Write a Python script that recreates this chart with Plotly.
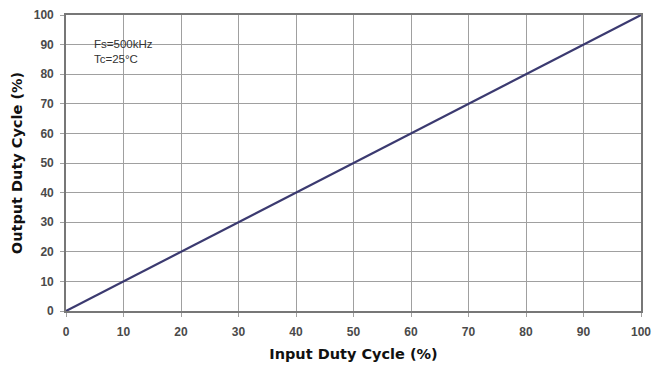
import plotly.graph_objects as go

# Input vs output duty cycle (%)
input_duty = [0, 10, 20, 30, 40, 50, 60, 70, 80, 90, 100]
output_duty = [0, 10, 20, 30, 40, 50, 60, 70, 80, 90, 100]
tick_vals = [0, 10, 20, 30, 40, 50, 60, 70, 80, 90, 100]

fig = go.Figure()
fig.add_trace(go.Scatter(
    x=input_duty, y=output_duty, mode="lines",
    line=dict(color="#3b3a70", width=2.2),
    showlegend=False,
))

axis_common = dict(
    range=[0, 100], tickvals=tick_vals, showgrid=True,
    gridcolor="#a0a0a0", gridwidth=1, zeroline=False,
    showline=True, linecolor="#777777", linewidth=1.6, mirror=True,
    ticks="outside", ticklen=4, tickcolor="#a0a0a0", tickwidth=1,
    automargin=False,
    tickfont=dict(family="Liberation Sans, Arial", size=12, color="#4a4a4a", weight="bold"),
)

title_font = dict(family="DejaVu Sans, Arial", size=14.5, color="#111111", weight="bold")

fig.update_layout(
    width=652, height=371,
    margin=dict(l=66, r=11, t=15, b=60),
    paper_bgcolor="white", plot_bgcolor="white",
    xaxis=dict(**axis_common, ticklabelstandoff=5,
               title=dict(text="Input Duty Cycle (%)", standoff=11, font=title_font)),
    yaxis=dict(**axis_common, ticklabelstandoff=4,
               title=dict(text="Output Duty Cycle (%)", standoff=8, font=title_font)),
    annotations=[dict(
        x=0.045, y=0.93, xref="paper", yref="paper", xanchor="left", yanchor="top",
        text="Fs=<span>500</span>kHz<br>Tc=25°C", showarrow=False, align="left",
        font=dict(family="Liberation Sans, Arial", size=11.5, color="#333333"),
    )],
)

fig.write_html("out.html")
